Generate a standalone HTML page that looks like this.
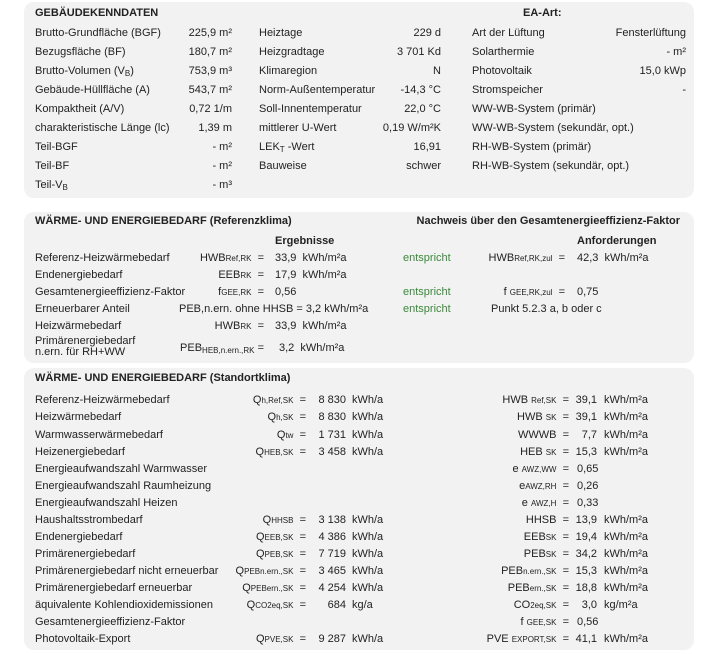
<!DOCTYPE html>
<html><head><meta charset="utf-8">
<style>
body{margin:0;width:718px;height:654px;background:#fff;position:relative;overflow:hidden;font-family:"Liberation Sans",Arial,sans-serif;font-size:11px;color:#222;}
.p{position:absolute;left:24px;width:670px;background:#f2f2f2;border-radius:10px;}
.t{position:absolute;line-height:14px;white-space:nowrap;}
.b{font-weight:bold;}
.g{color:#3a8a3a;}
sub{font-size:8px;vertical-align:-2px;line-height:0;}
.s{font-size:8px;}
</style></head><body>
<div class="p" style="top:2px;height:196px"></div>
<div class="p" style="top:212px;height:151px"></div>
<div class="p" style="top:368px;height:282px"></div>

<!-- Panel 1 -->
<div class="t b" style="left:35px;top:6px">GEBÄUDEKENNDATEN</div>
<div class="t b" style="left:523px;top:6px">EA-Art:</div>
<div class="t" style="left:35px;top:26px">Brutto-Grundfläche (BGF)</div><div class="t" style="right:486px;top:26px">225,9 m²</div>
<div class="t" style="left:35px;top:45px">Bezugsfläche (BF)</div><div class="t" style="right:486px;top:45px">180,7 m²</div>
<div class="t" style="left:35px;top:64px">Brutto-Volumen (V<sub>B</sub>)</div><div class="t" style="right:486px;top:64px">753,9 m³</div>
<div class="t" style="left:35px;top:83px">Gebäude-Hüllfläche (A)</div><div class="t" style="right:486px;top:83px">543,7 m²</div>
<div class="t" style="left:35px;top:102px">Kompaktheit (A/V)</div><div class="t" style="right:486px;top:102px">0,72 1/m</div>
<div class="t" style="left:35px;top:121px">charakteristische Länge (lc)</div><div class="t" style="right:486px;top:121px">1,39 m</div>
<div class="t" style="left:35px;top:140px">Teil-BGF</div><div class="t" style="right:486px;top:140px">- m²</div>
<div class="t" style="left:35px;top:159px">Teil-BF</div><div class="t" style="right:486px;top:159px">- m²</div>
<div class="t" style="left:35px;top:178px">Teil-V<sub>B</sub></div><div class="t" style="right:486px;top:178px">- m³</div>

<div class="t" style="left:259px;top:26px">Heiztage</div><div class="t" style="right:277px;top:26px">229 d</div>
<div class="t" style="left:259px;top:45px">Heizgradtage</div><div class="t" style="right:277px;top:45px">3 701 Kd</div>
<div class="t" style="left:259px;top:64px">Klimaregion</div><div class="t" style="right:277px;top:64px">N</div>
<div class="t" style="left:259px;top:83px">Norm-Außentemperatur</div><div class="t" style="right:277px;top:83px">-14,3 °C</div>
<div class="t" style="left:259px;top:102px">Soll-Innentemperatur</div><div class="t" style="right:277px;top:102px">22,0 °C</div>
<div class="t" style="left:259px;top:121px">mittlerer U-Wert</div><div class="t" style="right:277px;top:121px">0,19 W/m²K</div>
<div class="t" style="left:259px;top:140px">LEK<sub>T</sub> -Wert</div><div class="t" style="right:277px;top:140px">16,91</div>
<div class="t" style="left:259px;top:159px">Bauweise</div><div class="t" style="right:277px;top:159px">schwer</div>

<div class="t" style="left:472px;top:26px">Art der Lüftung</div><div class="t" style="right:32px;top:26px">Fensterlüftung</div>
<div class="t" style="left:472px;top:45px">Solarthermie</div><div class="t" style="right:32px;top:45px">- m²</div>
<div class="t" style="left:472px;top:64px">Photovoltaik</div><div class="t" style="right:32px;top:64px">15,0 kWp</div>
<div class="t" style="left:472px;top:83px">Stromspeicher</div><div class="t" style="right:32px;top:83px">-</div>
<div class="t" style="left:472px;top:102px">WW-WB-System (primär)</div>
<div class="t" style="left:472px;top:121px">WW-WB-System (sekundär, opt.)</div>
<div class="t" style="left:472px;top:140px">RH-WB-System (primär)</div>
<div class="t" style="left:472px;top:159px">RH-WB-System (sekundär, opt.)</div>

<!-- Panel 2 -->
<div class="t b" style="left:35px;top:214px">WÄRME- UND ENERGIEBEDARF (Referenzklima)</div>
<div class="t b" style="right:38px;top:214px">Nachweis über den Gesamtenergieeffizienz-Faktor</div>
<div class="t b" style="left:275px;top:234px">Ergebnisse</div>
<div class="t b" style="left:577px;top:234px">Anforderungen</div>

<div class="t" style="left:35px;top:251px">Referenz-Heizwärmebedarf</div><div class="t" style="right:454px;top:251px">HWB<span class="s">Ref,RK</span> &nbsp;=</div><div class="t" style="left:275px;top:251px">33,9 &nbsp;kWh/m²a</div>
<div class="t g" style="left:403px;top:251px">entspricht</div><div class="t" style="right:153px;top:251px">HWB<span class="s">Ref,RK,zul</span> &nbsp;=</div><div class="t" style="left:577px;top:251px">42,3 &nbsp;kWh/m²a</div>
<div class="t" style="left:35px;top:268px">Endenergiebedarf</div><div class="t" style="right:454px;top:268px">EEB<span class="s">RK</span> &nbsp;=</div><div class="t" style="left:275px;top:268px">17,9 &nbsp;kWh/m²a</div>
<div class="t" style="left:35px;top:285px">Gesamtenergieeffizienz-Faktor</div><div class="t" style="right:454px;top:285px">f<span class="s">GEE,RK</span> &nbsp;=</div><div class="t" style="left:275px;top:285px">0,56</div>
<div class="t g" style="left:403px;top:285px">entspricht</div><div class="t" style="right:153px;top:285px">f <span class="s">GEE,RK,zul</span> &nbsp;=</div><div class="t" style="left:577px;top:285px">0,75</div>
<div class="t" style="left:35px;top:302px">Erneuerbarer Anteil</div><div class="t" style="left:179px;top:302px">PEB,n.ern. ohne HHSB = 3,2 kWh/m²a</div>
<div class="t g" style="left:403px;top:302px">entspricht</div><div class="t" style="left:491px;top:302px">Punkt 5.2.3 a, b oder c</div>
<div class="t" style="left:35px;top:319px">Heizwärmebedarf</div><div class="t" style="right:454px;top:319px">HWB<span class="s">RK</span> &nbsp;=</div><div class="t" style="left:275px;top:319px">33,9 &nbsp;kWh/m²a</div>
<div class="t" style="left:35px;top:336px;line-height:11px">Primärenergiebedarf<br>n.ern. für RH+WW</div><div class="t" style="right:454px;top:341px">PEB<sub>HEB,n.ern.,RK</sub> =</div><div class="t" style="left:279px;top:341px">3,2 &nbsp;kWh/m²a</div>

<!-- Panel 3 -->
<div class="t b" style="left:35px;top:371px">WÄRME- UND ENERGIEBEDARF (Standortklima)</div>
<div class="t" style="left:35px;top:393px">Referenz-Heizwärmebedarf</div><div class="t" style="right:412px;top:393px">Q<span class="s">h,Ref,SK</span> &nbsp;=</div><div class="t" style="right:372px;top:393px">8 830</div><div class="t" style="left:352px;top:393px">kWh/a</div>
<div class="t" style="left:35px;top:410px">Heizwärmebedarf</div><div class="t" style="right:412px;top:410px">Q<span class="s">h,SK</span> &nbsp;=</div><div class="t" style="right:372px;top:410px">8 830</div><div class="t" style="left:352px;top:410px">kWh/a</div>
<div class="t" style="left:35px;top:428px">Warmwasserwärmebedarf</div><div class="t" style="right:412px;top:428px">Q<span class="s">tw</span> &nbsp;=</div><div class="t" style="right:372px;top:428px">1 731</div><div class="t" style="left:352px;top:428px">kWh/a</div>
<div class="t" style="left:35px;top:445px">Heizenergiebedarf</div><div class="t" style="right:412px;top:445px">Q<span class="s">HEB,SK</span> &nbsp;=</div><div class="t" style="right:372px;top:445px">3 458</div><div class="t" style="left:352px;top:445px">kWh/a</div>
<div class="t" style="left:35px;top:462px">Energieaufwandszahl Warmwasser</div>
<div class="t" style="left:35px;top:479px">Energieaufwandszahl Raumheizung</div>
<div class="t" style="left:35px;top:496px">Energieaufwandszahl Heizen</div>
<div class="t" style="left:35px;top:513px">Haushaltsstrombedarf</div><div class="t" style="right:412px;top:513px">Q<span class="s">HHSB</span> &nbsp;=</div><div class="t" style="right:372px;top:513px">3 138</div><div class="t" style="left:352px;top:513px">kWh/a</div>
<div class="t" style="left:35px;top:530px">Endenergiebedarf</div><div class="t" style="right:412px;top:530px">Q<span class="s">EEB,SK</span> &nbsp;=</div><div class="t" style="right:372px;top:530px">4 386</div><div class="t" style="left:352px;top:530px">kWh/a</div>
<div class="t" style="left:35px;top:547px">Primärenergiebedarf</div><div class="t" style="right:412px;top:547px">Q<span class="s">PEB,SK</span> &nbsp;=</div><div class="t" style="right:372px;top:547px">7 719</div><div class="t" style="left:352px;top:547px">kWh/a</div>
<div class="t" style="left:35px;top:564px">Primärenergiebedarf nicht erneuerbar</div><div class="t" style="right:412px;top:564px">Q<span class="s">PEBn.ern.,SK</span> &nbsp;=</div><div class="t" style="right:372px;top:564px">3 465</div><div class="t" style="left:352px;top:564px">kWh/a</div>
<div class="t" style="left:35px;top:581px">Primärenergiebedarf erneuerbar</div><div class="t" style="right:412px;top:581px">Q<span class="s">PEBern.,SK</span> &nbsp;=</div><div class="t" style="right:372px;top:581px">4 254</div><div class="t" style="left:352px;top:581px">kWh/a</div>
<div class="t" style="left:35px;top:598px">äquivalente Kohlendioxidemissionen</div><div class="t" style="right:412px;top:598px">Q<span class="s">CO2eq,SK</span> &nbsp;=</div><div class="t" style="right:372px;top:598px">684</div><div class="t" style="left:352px;top:598px">kg/a</div>
<div class="t" style="left:35px;top:615px">Gesamtenergieeffizienz-Faktor</div>
<div class="t" style="left:35px;top:632px">Photovoltaik-Export</div><div class="t" style="right:412px;top:632px">Q<span class="s">PVE,SK</span> &nbsp;=</div><div class="t" style="right:372px;top:632px">9 287</div><div class="t" style="left:352px;top:632px">kWh/a</div>

<div class="t" style="right:149px;top:393px">HWB <span class="s">Ref,SK</span> &nbsp;=</div><div class="t" style="right:121px;top:393px">39,1</div><div class="t" style="left:604px;top:393px">kWh/m²a</div>
<div class="t" style="right:149px;top:410px">HWB <span class="s">SK</span> &nbsp;=</div><div class="t" style="right:121px;top:410px">39,1</div><div class="t" style="left:604px;top:410px">kWh/m²a</div>
<div class="t" style="right:149px;top:428px">WWWB &nbsp;=</div><div class="t" style="right:121px;top:428px">7,7</div><div class="t" style="left:604px;top:428px">kWh/m²a</div>
<div class="t" style="right:149px;top:445px">HEB <span class="s">SK</span> &nbsp;=</div><div class="t" style="right:121px;top:445px">15,3</div><div class="t" style="left:604px;top:445px">kWh/m²a</div>
<div class="t" style="right:149px;top:462px">e <span class="s">AWZ,WW</span> &nbsp;=</div><div class="t" style="left:577px;top:462px">0,65</div>
<div class="t" style="right:149px;top:479px">e<span class="s">AWZ,RH</span> &nbsp;=</div><div class="t" style="left:577px;top:479px">0,26</div>
<div class="t" style="right:149px;top:496px">e <span class="s">AWZ,H</span> &nbsp;=</div><div class="t" style="left:577px;top:496px">0,33</div>
<div class="t" style="right:149px;top:513px">HHSB &nbsp;=</div><div class="t" style="right:121px;top:513px">13,9</div><div class="t" style="left:604px;top:513px">kWh/m²a</div>
<div class="t" style="right:149px;top:530px">EEB<span class="s">SK</span> &nbsp;=</div><div class="t" style="right:121px;top:530px">19,4</div><div class="t" style="left:604px;top:530px">kWh/m²a</div>
<div class="t" style="right:149px;top:547px">PEB<span class="s">SK</span> &nbsp;=</div><div class="t" style="right:121px;top:547px">34,2</div><div class="t" style="left:604px;top:547px">kWh/m²a</div>
<div class="t" style="right:149px;top:564px">PEB<span class="s">n.ern.,SK</span> &nbsp;=</div><div class="t" style="right:121px;top:564px">15,3</div><div class="t" style="left:604px;top:564px">kWh/m²a</div>
<div class="t" style="right:149px;top:581px">PEB<span class="s">ern.,SK</span> &nbsp;=</div><div class="t" style="right:121px;top:581px">18,8</div><div class="t" style="left:604px;top:581px">kWh/m²a</div>
<div class="t" style="right:149px;top:598px">CO<span class="s">2eq,SK</span> &nbsp;=</div><div class="t" style="right:121px;top:598px">3,0</div><div class="t" style="left:604px;top:598px">kg/m²a</div>
<div class="t" style="right:149px;top:615px">f <span class="s">GEE,SK</span> &nbsp;=</div><div class="t" style="left:577px;top:615px">0,56</div>
<div class="t" style="right:149px;top:632px">PVE <span class="s">EXPORT,SK</span> &nbsp;=</div><div class="t" style="right:121px;top:632px">41,1</div><div class="t" style="left:604px;top:632px">kWh/m²a</div>
</body></html>
